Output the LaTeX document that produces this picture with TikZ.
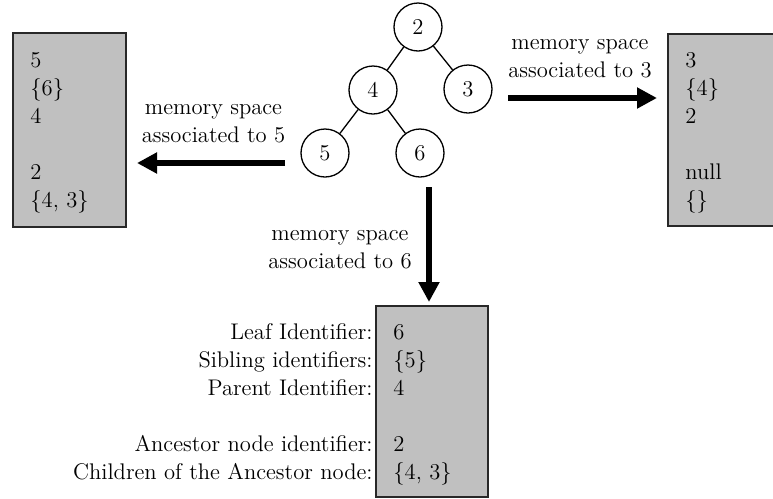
\documentclass[tikz,border=0pt]{standalone}
\usetikzlibrary{arrows.meta}
\definecolor{boxgray}{RGB}{192,192,192}
\definecolor{boxline}{RGB}{40,40,40}
\begin{document}
\begin{tikzpicture}[x=0.5pt,y=-0.5pt,
  every node/.style={font=\fontsize{11.3}{14}\selectfont, inner sep=0pt},
  treenode/.style={circle, draw, line width=0.65pt, minimum size=24pt, fill=white},
  treeedge/.style={line width=0.65pt},
  membox/.style={rectangle, draw=boxline, fill=boxgray, line width=0.8pt},
  bigarrow/.style={line width=3pt, -{Triangle[length=10pt,width=10pt]}},
  lbl/.style={align=center},
  cell/.style={anchor=base west},
  fieldlbl/.style={anchor=base east}]
\clip (0,0) rectangle (773,499);
\fill[white] (0,0) rectangle (773,499);

% boxes
\node[membox, minimum width=56.5pt, minimum height=97pt] (lbox) at (69.5,130) {};
\node[membox, minimum width=56.5pt, minimum height=96pt] (rbox) at (724.5,130) {};
\node[membox, minimum width=56pt, minimum height=95.5pt] (bbox) at (432,401.5) {};

% tree
\node[treenode] (n2) at (418,27) {2};
\node[treenode] (n4) at (373,90) {4};
\node[treenode] (n3) at (468,89) {3};
\node[treenode] (n5) at (325,153) {5};
\node[treenode] (n6) at (420,153) {6};
\draw[treeedge] (n2) -- (n4);
\draw[treeedge] (n2) -- (n3);
\draw[treeedge] (n4) -- (n5);
\draw[treeedge] (n4) -- (n6);

% arrows
\coordinate (la0) at (285,163);
\coordinate (la1) at (137,163);
\coordinate (ra0) at (508,98);
\coordinate (ra1) at (657,98);
\coordinate (da0) at (429,187);
\coordinate (da1) at (429,302);
\draw[bigarrow] (la0) -- (la1);
\draw[bigarrow] (ra0) -- (ra1);
\draw[bigarrow] (da0) -- (da1);

% labels
\node[lbl] (l5) at (213.5,124) {memory space\\associated to 5};
\node[lbl] (l3) at (580,59) {memory space\\associated to 3};
\node[lbl] (l6) at (340,250) {memory space\\associated to 6};

% left box contents
\node[cell] (a1) at (30,67) {5};
\node[cell] (a2) at (30,95) {\{6\}};
\node[cell] (a3) at (30,123) {4};
\node[cell] (a4) at (30,179) {2};
\node[cell] (a5) at (30,207) {\{4, 3\}};

% right box contents
\node[cell] (b1) at (685,67) {3};
\node[cell] (b2) at (685,95) {\{4\}};
\node[cell] (b3) at (685,123) {2};
\node[cell] (b4) at (685,179) {null};
\node[cell] (b5) at (685,207) {\{\}};

% bottom box contents
\node[cell] (c1) at (393,339) {6};
\node[cell] (c2) at (393,367) {\{5\}};
\node[cell] (c3) at (393,395) {4};
\node[cell] (c4) at (393,451) {2};
\node[cell] (c5) at (393,479) {\{4, 3\}};

\node[fieldlbl] (f1) at (373,339) {Leaf Identifier:};
\node[fieldlbl] (f2) at (373,367) {Sibling identifiers:};
\node[fieldlbl] (f3) at (373,395) {Parent Identifier:};
\node[fieldlbl] (f4) at (373,451) {Ancestor node identifier:};
\node[fieldlbl] (f5) at (373,479) {Children of the Ancestor node:};
\end{tikzpicture}
\end{document}
